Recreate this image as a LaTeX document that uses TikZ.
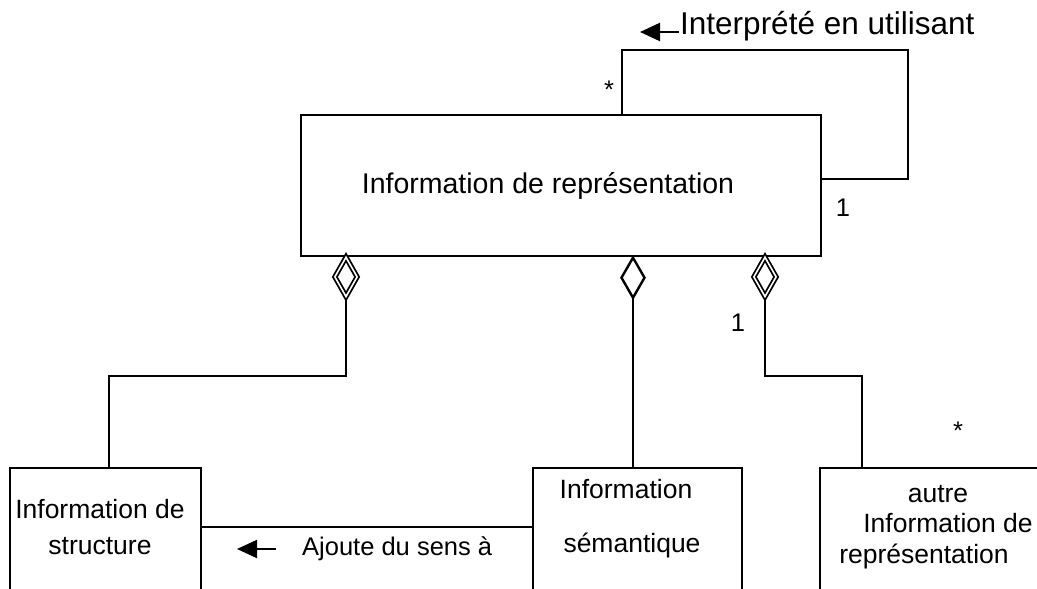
\documentclass[tikz,border=0pt]{standalone}
\usepackage{fontspec}
\setmainfont{Liberation Sans}
\usetikzlibrary{arrows.meta,shapes.geometric}
\begin{document}
\begin{tikzpicture}[x=1pt,y=-1pt,
  line/.style={line width=2pt},
  lbl/.style={font=\fontsize{25.5}{30}\selectfont, inner sep=0pt},
  agg/.style={diamond, draw, line width=1.8pt, double, double distance=1.6pt, fill=white, minimum width=23pt, minimum height=40pt, inner sep=0pt, aspect=0.55},
  agg2/.style={diamond, draw, line width=2.4pt, fill=white, minimum width=24pt, minimum height=41pt, inner sep=0pt},
  arr/.style={line width=2pt, -{Triangle[length=20pt,width=18pt]}}
]
\useasboundingbox (0,0) rectangle (1037,589);
% main box
\node[draw, line width=2pt, minimum width=520pt, minimum height=141pt, inner sep=0pt] (main) at (561,185.5) {};
\node[lbl, font=\fontsize{28.5}{32}\selectfont] (maintxt) at (548,186) {Information de représentation};
% self loop
\coordinate (lp1) at (622,115);
\coordinate (lp2) at (622,50);
\coordinate (lp3) at (908,50);
\coordinate (lp4) at (908,179);
\coordinate (lp5) at (821,179);
\draw[line] (lp1) -- (lp2) -- (lp3) -- (lp4) -- (lp5);
\node[lbl] (star1) at (609,90) {*};
\node[lbl] (one1) at (843,208) {1};
\coordinate (a1s) at (679,32);
\coordinate (a1e) at (640,32);
\draw[arr] (a1s) -- (a1e);
\node[lbl, anchor=west, font=\fontsize{31.5}{36}\selectfont] (interp) at (680,26) {Interprété en utilisant};
% bottom boxes (cut at the page edge)
\node[draw, line width=2pt, minimum width=191pt, minimum height=180pt, inner sep=0pt] (bleft) at (105.5,558) {};
\node[draw, line width=2pt, minimum width=209pt, minimum height=180pt, inner sep=0pt] (bmid) at (637.5,558) {};
\node[draw, line width=2pt, minimum width=240pt, minimum height=180pt, inner sep=0pt] (bright) at (940,558) {};
\node[lbl, font=\fontsize{26.5}{30}\selectfont] (tl1) at (100,509) {Information de};
\node[lbl, font=\fontsize{26.5}{30}\selectfont] (tl2) at (100,546) {structure};
\node[lbl, font=\fontsize{26.5}{30}\selectfont] (tm1) at (626,489) {Information};
\node[lbl, font=\fontsize{26.5}{30}\selectfont] (tm2) at (632,545) {sémantique};
\node[lbl, font=\fontsize{26.5}{30}\selectfont] (tr1) at (938,494) {autre};
\node[lbl, font=\fontsize{26.5}{30}\selectfont] (tr2) at (948,523) {Information de};
\node[lbl, font=\fontsize{26.5}{30}\selectfont] (tr3) at (924,556) {représentation};
% aggregation diamonds
\node[agg, anchor=north] (d1) at (346,256) {};
\node[agg2, anchor=north] (d2) at (633,256) {};
\node[agg, anchor=north] (d3) at (765,256) {};
% connectors
\coordinate (c1a) at (346,376);
\coordinate (c1b) at (109,376);
\draw[line] (d1.south) -- (c1a) -- (c1b) -- (c1b |- bleft.north);
\draw[line] (d2.south) -- (d2.south |- bmid.north);
\coordinate (c3a) at (765,376);
\coordinate (c3b) at (862,376);
\draw[line] (d3.south) -- (c3a) -- (c3b) -- (c3b |- bright.north);
\node[lbl] (one2) at (738,323) {1};
\node[lbl] (star2) at (958,431) {*};
% association between structure and semantic
\draw[line] (bleft.east |- 0,527) -- (bmid.west |- 0,527);
\coordinate (a2s) at (276,549);
\coordinate (a2e) at (237,549);
\draw[arr] (a2s) -- (a2e);
\node[lbl, anchor=west] (ajoute) at (302,549) {Ajoute du sens à};
\end{tikzpicture}
\end{document}
